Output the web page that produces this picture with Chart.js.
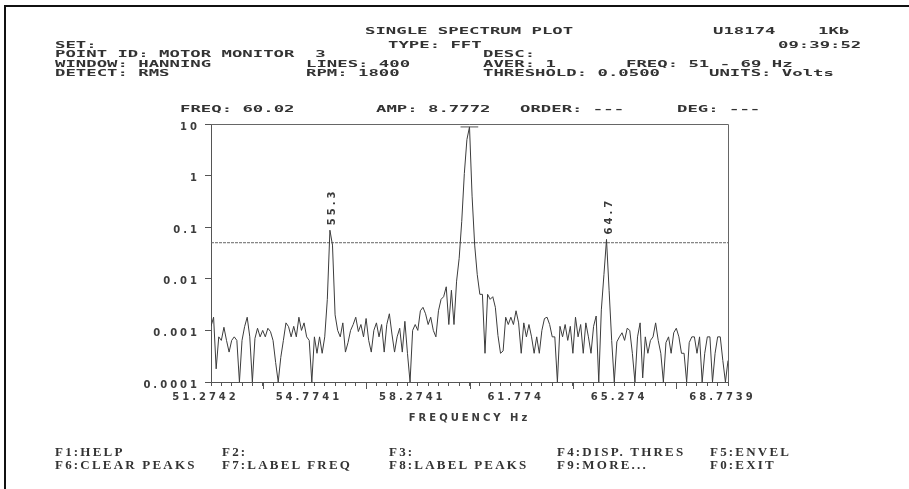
<!DOCTYPE html>
<html>
<head>
<meta charset="utf-8">
<title>Single Spectrum Plot</title>
<script src="https://cdn.jsdelivr.net/npm/chart.js@4.4.1/dist/chart.umd.min.js"></script>
<style>
  html, body { margin: 0; padding: 0; background: #fff; }
  #page { position: relative; width: 909px; height: 489px; overflow: hidden; }
  #plot { position: absolute; left: 0; top: 0; }
  .frame-top { position: absolute; left: 5px; right: 0; top: 5px; height: 2px; background: #111; }
  .frame-left { position: absolute; left: 4px; top: 5px; bottom: 0; width: 2px; background: #111; }
  /* wide bitmap-like header font: mono bold stretched sideways */
  .hdr { position: absolute; white-space: pre; font: bold 9.5px/10px "DejaVu Sans Mono", monospace;
         color: #333; transform: scaleX(1.82); transform-origin: 0 0; }
  .ftr { position: absolute; white-space: pre; font: bold 13px/13px "Liberation Serif", serif;
         letter-spacing: 2.2px; color: #333; }
</style>
</head>
<body>
<div id="page">
  <canvas id="plot" width="909" height="489"></canvas>
  <div class="frame-top"></div>
  <div class="frame-left"></div>

  <!-- header block -->
  <div class="hdr" style="left:365px;top:26px">SINGLE SPECTRUM PLOT</div>
  <div class="hdr" style="left:713px;top:26px">U18174</div>
  <div class="hdr" style="left:818px;top:26px">1Kb</div>

  <div class="hdr" style="left:55px;top:40px">SET:</div>
  <div class="hdr" style="left:388px;top:40px">TYPE: FFT</div>
  <div class="hdr" style="left:778px;top:40px">09:39:52</div>

  <div class="hdr" style="left:55px;top:49px">POINT ID: MOTOR MONITOR  3</div>
  <div class="hdr" style="left:483px;top:49px">DESC:</div>

  <div class="hdr" style="left:55px;top:58.5px">WINDOW: HANNING</div>
  <div class="hdr" style="left:306px;top:58.5px">LINES: 400</div>
  <div class="hdr" style="left:483px;top:58.5px">AVER: 1</div>
  <div class="hdr" style="left:626px;top:58.5px">FREQ: 51 - 69 Hz</div>

  <div class="hdr" style="left:55px;top:68px">DETECT: RMS</div>
  <div class="hdr" style="left:306px;top:68px">RPM: 1800</div>
  <div class="hdr" style="left:483px;top:68px">THRESHOLD: 0.0500</div>
  <div class="hdr" style="left:709px;top:68px">UNITS: Volts</div>

  <div class="hdr" style="left:180px;top:104px">FREQ: 60.02</div>
  <div class="hdr" style="left:376px;top:104px">AMP: 8.7772</div>
  <div class="hdr" style="left:520px;top:104px">ORDER: ---</div>
  <div class="hdr" style="left:677px;top:104px">DEG: ---</div>

  <!-- function key menu -->
  <div class="ftr" style="left:55px;top:445px">F1:HELP</div>
  <div class="ftr" style="left:222px;top:445px">F2:</div>
  <div class="ftr" style="left:389px;top:445px">F3:</div>
  <div class="ftr" style="left:557px;top:445px">F4:DISP. THRES</div>
  <div class="ftr" style="left:710px;top:445px">F5:ENVEL</div>
  <div class="ftr" style="left:55px;top:458px">F6:CLEAR PEAKS</div>
  <div class="ftr" style="left:222px;top:458px">F7:LABEL FREQ</div>
  <div class="ftr" style="left:389px;top:458px">F8:LABEL PEAKS</div>
  <div class="ftr" style="left:557px;top:458px">F9:MORE...</div>
  <div class="ftr" style="left:710px;top:458px">F0:EXIT</div>
</div>

<script>
// Frequency axis: bins start at 51.2742 Hz, one value every 0.0875 Hz
const freqStart = 51.2742;
const freqStep = 0.0875;
const freqMin = 51.2742;
const freqMax = 68.7739;

// Amplitude (Volts), one per bin
const amplitudes = [
  0.0012, 0.0018, 0.00018, 0.00075, 0.00064, 0.00115, 0.00064, 0.00038, 0.00064, 0.00075,
  0.00064, 0.0001, 0.00064, 0.00118, 0.0018, 0.00075, 0.0001, 0.0007, 0.0011, 0.00075,
  0.001, 0.00075, 0.0011, 0.00095, 0.00064, 0.00024, 0.0001, 0.0003, 0.00064, 0.0014,
  0.00118, 0.00075, 0.0012, 0.00075, 0.0018, 0.001, 0.0014, 0.00075, 0.00064, 0.0001,
  0.00075, 0.00036, 0.00075, 0.00036, 0.00075, 0.004, 0.0875, 0.045, 0.002, 0.001,
  0.00075, 0.0014, 0.00038, 0.00058, 0.001, 0.0013, 0.0018, 0.00095, 0.0013, 0.00075,
  0.0017, 0.00064, 0.00038, 0.001, 0.0014, 0.00075, 0.0013, 0.00038, 0.0013, 0.0021,
  0.00085, 0.00038, 0.00075, 0.0011, 0.00038, 0.0015, 0.00036, 0.0001, 0.001, 0.0013,
  0.001, 0.0024, 0.0028, 0.0021, 0.0013, 0.0018, 0.001, 0.00075, 0.0024, 0.004,
  0.0045, 0.007, 0.0013, 0.006, 0.0013, 0.009, 0.025, 0.13, 1.1, 5.0,
  8.7772, 0.4, 0.045, 0.012, 0.005, 0.005, 0.00036, 0.005, 0.004, 0.0045,
  0.0028, 0.0008, 0.00036, 0.0004, 0.0018, 0.0013, 0.0018, 0.0013, 0.0024, 0.0014,
  0.00036, 0.0014, 0.00075, 0.0013, 0.00075, 0.00036, 0.00075, 0.00036, 0.001, 0.0017,
  0.0018, 0.0013, 0.00075, 0.00075, 0.0001, 0.0012, 0.00075, 0.0013, 0.00064, 0.0012,
  0.00036, 0.0018, 0.00075, 0.0013, 0.00036, 0.0014, 0.00075, 0.00036, 0.0012, 0.0019,
  0.0001, 0.0025, 0.012, 0.058, 0.006, 0.00064, 0.0001, 0.0006, 0.00075, 0.0009,
  0.00064, 0.0011, 0.001, 0.00036, 0.0001, 0.00075, 0.0014, 0.00012, 0.00075, 0.00036,
  0.00064, 0.00075, 0.0014, 0.00064, 0.00036, 0.0001, 0.00058, 0.00075, 0.00036, 0.0009,
  0.0011, 0.00075, 0.00036, 0.00036, 0.0001, 0.00058, 0.00075, 0.00075, 0.00036, 0.00075,
  0.0001, 0.00036, 0.00075, 0.00075, 0.0001, 0.00036, 0.00075, 0.00075, 0.00026, 0.0001,
  0.00026
];

// Axis ticks
const xTickLabels = ['51.2742', '54.7741', '58.2741', '61.774', '65.274', '68.7739'];
const xMinorDivisions = 50;          // small ticks between min and max
const yTickValues = [0.0001, 0.001, 0.01, 0.1, 1, 10];
const yTickLabels = ['0.0001', '0.001', '0.01', '0.1', '1', '10'];

// Threshold, cursor and peak labels
const threshold = 0.05;
const cursorFreq = 60.02;
const cursorAmp = 8.7772;
const peakFreqs = [55.3, 64.7];
const peakAmps = [0.0875, 0.058];
const peakTexts = ['55.3', '64.7'];

const INK = '#3c3c3c';
const AXIS = '#555';
const TICK_FONT = { family: '"DejaVu Sans", sans-serif', weight: 'bold', size: 10 };

const spectrumPoints = amplitudes.map((a, i) => ({ x: freqStart + i * freqStep, y: a }));
const minorStep = (freqMax - freqMin) / xMinorDivisions;

// Wide letter spacing for the canvas text (measured during layout and used during draw)
const spacingPlugin = {
  id: 'spacing',
  beforeLayout(chart) { chart.ctx.letterSpacing = '3px'; },
  beforeDraw(chart) { chart.ctx.letterSpacing = '3px'; }
};

// Plot box (top and right edges), long x ticks and the rotated peak labels
const decorPlugin = {
  id: 'decor',
  afterDraw(chart) {
    const { ctx, chartArea: a, scales } = chart;
    ctx.save();
    ctx.strokeStyle = '#666';
    ctx.lineWidth = 1;
    ctx.beginPath();
    ctx.moveTo(a.left, a.top + 0.5);
    ctx.lineTo(a.right + 0.5, a.top + 0.5);
    ctx.lineTo(a.right + 0.5, a.bottom);
    ctx.stroke();

    // longer ticks halfway between labelled values
    ctx.strokeStyle = AXIS;
    ctx.beginPath();
    for (let k = 5; k < xMinorDivisions; k += 10) {
      const px = Math.round(scales.x.getPixelForValue(freqMin + k * minorStep)) + 0.5;
      ctx.moveTo(px, a.bottom);
      ctx.lineTo(px, a.bottom + 7);
    }
    ctx.stroke();

    ctx.fillStyle = INK;
    ctx.font = 'bold 10px "DejaVu Sans", sans-serif';
    ctx.textAlign = 'left';
    ctx.textBaseline = 'middle';
    peakTexts.forEach((t, i) => {
      const px = scales.x.getPixelForValue(peakFreqs[i]) + 2;
      const py = scales.y.getPixelForValue(peakAmps[i]) - 5;
      ctx.save();
      ctx.translate(px, py);
      ctx.rotate(-Math.PI / 2);
      ctx.fillText(t, 0, 0);
      ctx.restore();
    });
    ctx.restore();
  }
};

new Chart(document.getElementById('plot'), {
  type: 'line',
  data: {
    datasets: [
      {
        data: spectrumPoints,
        borderColor: INK,
        borderWidth: 1,
        pointRadius: 0,
        tension: 0
      },
      {
        data: [{ x: freqMin, y: threshold }, { x: freqMax, y: threshold }],
        borderColor: '#666',
        borderWidth: 1,
        borderDash: [3, 1],
        pointRadius: 0
      },
      {
        data: [{ x: cursorFreq - 0.3, y: cursorAmp }, { x: cursorFreq + 0.3, y: cursorAmp }],
        borderColor: '#555',
        borderWidth: 1,
        pointRadius: 0
      }
    ]
  },
  options: {
    responsive: false,
    animation: false,
    events: [],
    layout: { padding: { left: 0, right: 181, top: 124, bottom: 65 } },
    plugins: { legend: { display: false }, tooltip: { enabled: false } },
    scales: {
      x: {
        type: 'linear',
        min: freqMin,
        max: freqMax,
        afterBuildTicks(scale) {
          const ticks = [];
          for (let k = 0; k <= xMinorDivisions; k++) ticks.push({ value: freqMin + k * minorStep });
          scale.ticks = ticks;
        },
        afterFit(scale) { scale.height = 42; },
        border: { display: true, color: AXIS, width: 1 },
        grid: { drawOnChartArea: false, drawTicks: true, tickLength: 4, color: AXIS },
        ticks: {
          autoSkip: false,
          maxRotation: 0,
          padding: 5,
          labelOffset: -5.5,
          color: INK,
          font: TICK_FONT,
          callback: (v, i) => (i % 10 === 0 ? xTickLabels[i / 10] : '')
        },
        title: {
          display: true,
          text: 'FREQUENCY Hz',
          color: INK,
          font: TICK_FONT,
          padding: { top: 0, bottom: 0 }
        }
      },
      y: {
        type: 'logarithmic',
        min: 0.0001,
        max: 10,
        afterBuildTicks(scale) {
          scale.ticks = yTickValues.map(v => ({ value: v }));
        },
        afterFit(scale) { scale.width = 211; },
        border: { display: true, color: AXIS, width: 1 },
        grid: { drawOnChartArea: false, drawTicks: true, tickLength: 6, color: AXIS },
        ticks: {
          padding: 5,
          labelOffset: 3,
          color: INK,
          font: TICK_FONT,
          callback: (v, i) => yTickLabels[i]
        }
      }
    }
  },
  plugins: [spacingPlugin, decorPlugin]
});
</script>
</body>
</html>
